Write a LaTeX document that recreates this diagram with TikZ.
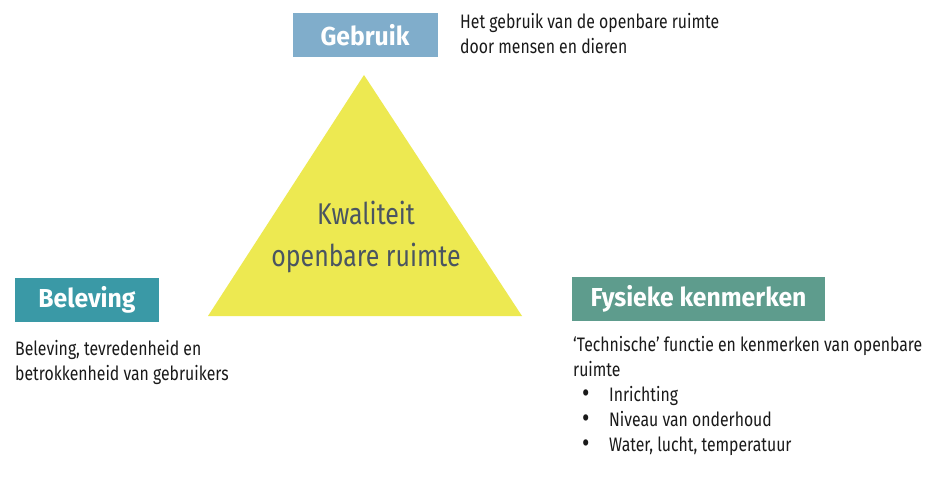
\documentclass[tikz,border=0pt]{standalone}
\usepackage{fontspec}
\setmainfont{Fira Sans}[FakeStretch=0.81]
\newfontfamily\titlefont{Fira Sans}[FakeStretch=0.95]
\newfontfamily\trifont{Fira Sans}[FakeStretch=0.83]
\definecolor{triyellow}{HTML}{EDE951}
\definecolor{gebruikblue}{HTML}{80ADCB}
\definecolor{belevingteal}{HTML}{3A99A6}
\definecolor{fysiekgreen}{HTML}{5E9C8D}
\definecolor{tritext}{HTML}{4A5561}
\definecolor{desctext}{HTML}{1A1A1A}
\newcommand{\bulletitem}{\hspace*{9pt}\makebox[27pt][l]{\fontsize{28}{25}\selectfont\raisebox{-1pt}{•}}}
\tikzset{
  titlebox/.style={rectangle, minimum height=44pt, inner sep=0pt, text=white,
    font=\titlefont\fontsize{26}{30}\selectfont\bfseries},
  desc/.style={anchor=base west, inner sep=0pt, align=left, text=desctext,
    font=\fontsize{19.5}{25}\selectfont},
}
\begin{document}
\begin{tikzpicture}[x=1pt,y=1pt]
\useasboundingbox (0,0) rectangle (946,-484);
\fill[white] (0,0) rectangle (946,-484);
% triangle
\coordinate (apex) at (364,-75);
\coordinate (bl) at (208,-316);
\coordinate (br) at (522,-316);
\fill[triyellow] (apex) -- (bl) -- (br) -- cycle;
\node[align=center, text=tritext, font=\trifont\fontsize{30}{42}\selectfont, inner sep=0pt] (kwal) at (366,-237) {Kwaliteit\\openbare ruimte};
% title boxes
\node[titlebox, fill=gebruikblue, minimum width=145pt] (gebruik) at (365,-35) {Gebruik};
\node[titlebox, fill=belevingteal, minimum width=144pt] (beleving) at (87,-300) {Beleving};
\node[titlebox, fill=fysiekgreen, minimum width=253pt] (fysiek) at (698.5,-299) {Fysieke kenmerken};
% descriptions (anchor = baseline of last line)
\node[desc] (gebruikdesc) at (460,-54) {Het gebruik van de openbare ruimte\\door mensen en dieren};
\node[desc] (belevingdesc) at (15,-380) {Beleving, tevredenheid en\\betrokkenheid van gebruikers};
\node[desc] (fysiekdesc) at (573,-451) {‘Technische’ functie en kenmerken van openbare\\ruimte\\
\bulletitem Inrichting\\
\bulletitem Niveau van onderhoud\\
\bulletitem Water, lucht, temperatuur};
\end{tikzpicture}
\end{document}
